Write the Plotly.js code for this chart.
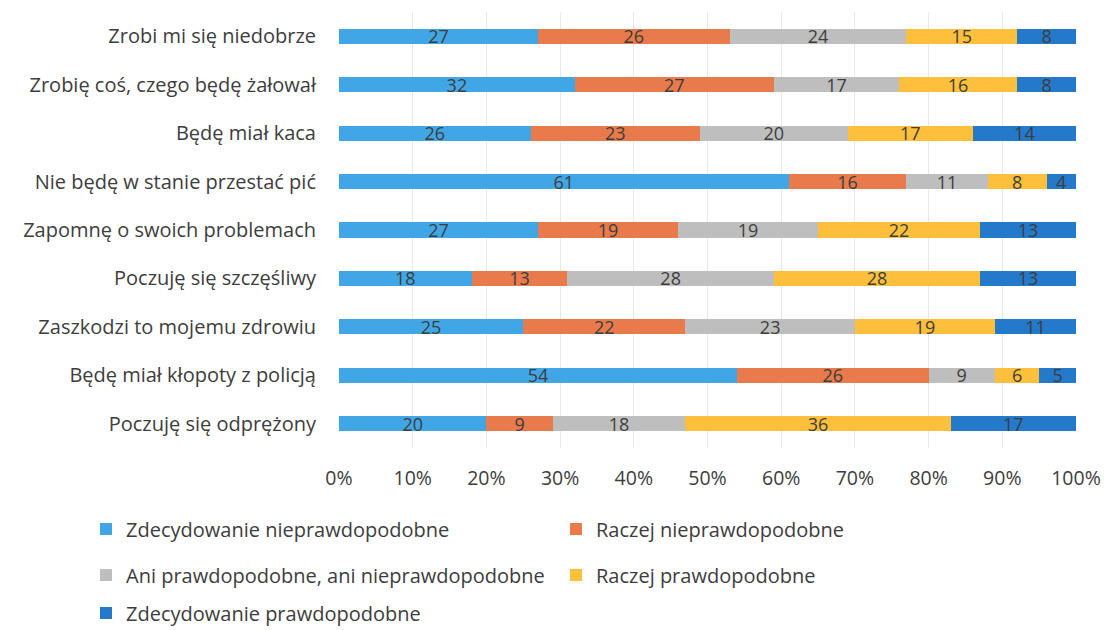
<!DOCTYPE html>
<html>
<head>
<meta charset="utf-8">
<script src="https://cdn.plot.ly/plotly-3.0.1.min.js"></script>
<style>html,body{margin:0;padding:0;background:#fff;}#chart{width:1104px;height:630px;}</style>
</head>
<body>
<div id="chart"></div>
<script>
const categories = [
  "Zrobi mi się niedobrze",
  "Zrobię coś, czego będę żałował",
  "Będę miał kaca",
  "Nie będę w stanie przestać pić",
  "Zapomnę o swoich problemach",
  "Poczuję się szczęśliwy",
  "Zaszkodzi to mojemu zdrowiu",
  "Będę miał kłopoty z policją",
  "Poczuję się odprężony"
];
const seriesNames = [
  "Zdecydowanie nieprawdopodobne",
  "Raczej nieprawdopodobne",
  "Ani prawdopodobne, ani nieprawdopodobne",
  "Raczej prawdopodobne",
  "Zdecydowanie prawdopodobne"
];
const zdecydowanieNie = [27, 32, 26, 61, 27, 18, 25, 54, 20];
const raczejNie       = [26, 27, 23, 16, 19, 13, 22, 26, 9];
const ani             = [24, 17, 20, 11, 19, 28, 23, 9, 18];
const raczejTak       = [15, 16, 17, 8, 22, 28, 19, 6, 36];
const zdecydowanieTak = [8, 8, 14, 4, 13, 13, 11, 5, 17];
const tickVals = [0,10,20,30,40,50,60,70,80,90,100];
const tickLabels = ["0%","10%","20%","30%","40%","50%","60%","70%","80%","90%","100%"];

const seriesValues = [zdecydowanieNie, raczejNie, ani, raczejTak, zdecydowanieTak];
const colors = ["#41A6E6", "#E97A4C", "#BEBEBE", "#FDBF3C", "#2479CB"];
const legendIds = ["legend", "legend2", "legend3", "legend4", "legend5"];

const FONT = "Open Sans, DejaVu Sans, sans-serif";
const TXT = "#3d3d3d";

const traces = seriesValues.map((vals, i) => ({
  type: "bar",
  orientation: "h",
  name: seriesNames[i],
  y: categories,
  x: vals,
  text: vals.map(String),
  textposition: "inside",
  insidetextanchor: "middle",
  textangle: 0,
  constraintext: "none",
  textfont: {family: FONT, size: 18, color: TXT},
  marker: {color: colors[i]},
  legend: legendIds[i],
  hoverinfo: "name+x+y"
}));

const legendPos = [
  {x: 86, y: 529},
  {x: 556, y: 529},
  {x: 86, y: 575},
  {x: 556, y: 575},
  {x: 86, y: 613}
];
const layout = {
  width: 1104,
  height: 630,
  paper_bgcolor: "#ffffff",
  plot_bgcolor: "#ffffff",
  barmode: "stack",
  bargap: 0.69,
  margin: {l: 339, r: 28, t: 12, b: 182},
  uniformtext: {minsize: 18, mode: "show"},
  font: {family: FONT, size: 20, color: TXT},
  xaxis: {
    range: [0, 100],
    tickvals: tickVals,
    ticktext: tickLabels,
    showgrid: true,
    gridcolor: "#e8e8e8",
    gridwidth: 1,
    zeroline: false,
    showline: false,
    ticks: "",
    ticklabelstandoff: 16,
    tickfont: {family: FONT, size: 19.5, color: TXT},
    fixedrange: true
  },
  yaxis: {
    type: "category",
    autorange: "reversed",
    showgrid: false,
    zeroline: false,
    showline: false,
    ticks: "",
    ticklabelstandoff: 22,
    tickfont: {family: FONT, size: 20, color: TXT},
    fixedrange: true
  },
  showlegend: true
};
legendIds.forEach((id, i) => {
  layout[id] = {
    xref: "container", yref: "container",
    x: legendPos[i].x / 1104,
    y: 1 - legendPos[i].y / 630,
    xanchor: "left", yanchor: "middle",
    orientation: "h",
    bgcolor: "rgba(0,0,0,0)",
    font: {family: FONT, size: 20, color: TXT},
    itemwidth: 30
  };
});

Plotly.newPlot("chart", traces, layout, {displayModeBar: false, staticPlot: true});
</script>
</body>
</html>
